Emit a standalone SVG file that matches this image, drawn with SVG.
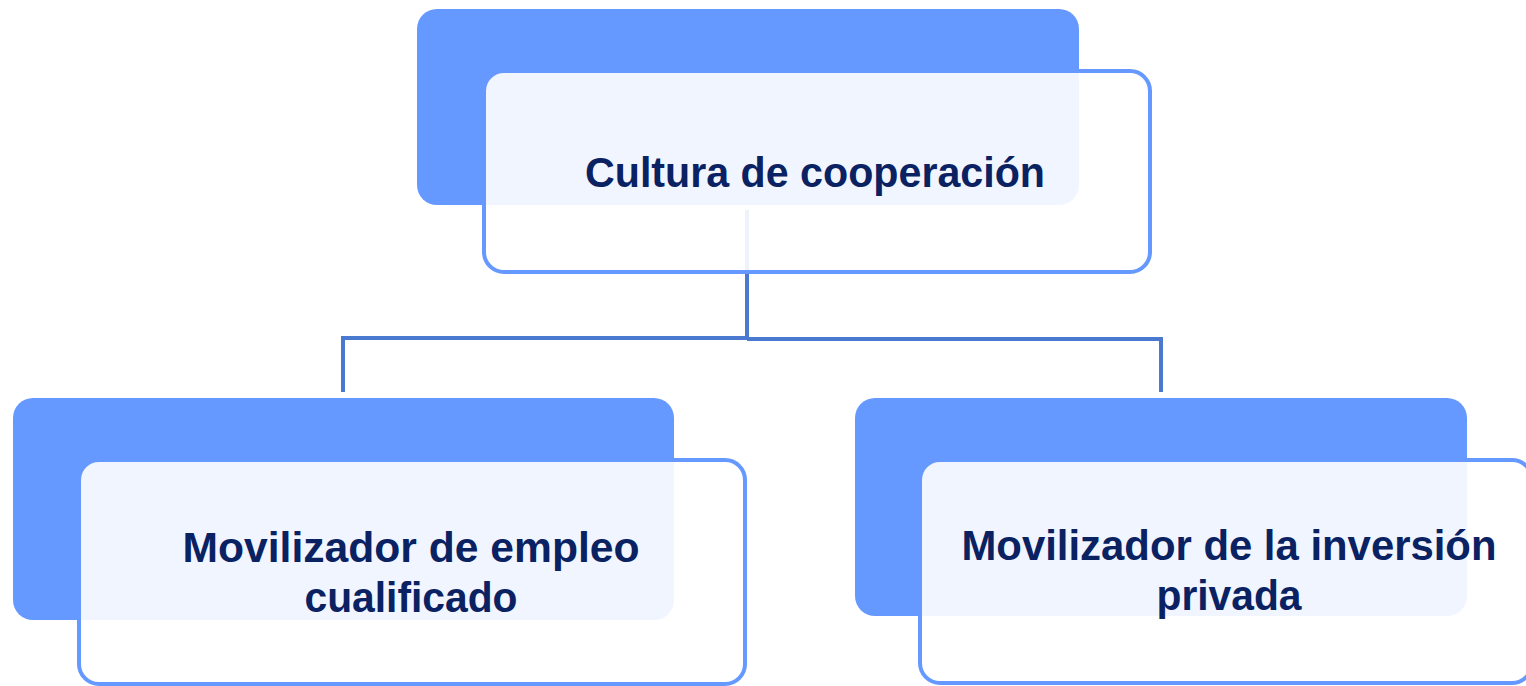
<svg xmlns="http://www.w3.org/2000/svg" width="1526" height="686" viewBox="0 0 1526 686">
<style>
.back{fill:#6699FF}
.front{fill:#FFFFFF;fill-opacity:0.9;stroke:#6699FF;stroke-width:4}
.conn{fill:none;stroke:#4A7AD0;stroke-width:4;stroke-linejoin:miter}
.lbl{font-family:"Liberation Sans",Arial,sans-serif;font-weight:bold;font-size:42px;fill:#0A2262;text-anchor:middle}
</style>
<rect width="1526" height="686" fill="#FFFFFF"/>
<g id="connectors">
<path class="conn" d="M747,210 V338 M343,392 V338 H749 M747,339 H1161 V392"/>
</g>
<g id="node-cultura">
<rect class="back" x="417" y="9" width="662" height="196" rx="20"/>
<rect class="front" x="484" y="71" width="666" height="201" rx="20"/>
<text class="lbl" x="815" y="187" textLength="460" lengthAdjust="spacingAndGlyphs">Cultura de cooperación</text>
</g>
<g id="node-empleo">
<rect class="back" x="13" y="398" width="661" height="222" rx="20"/>
<rect class="front" x="79" y="460" width="666" height="224" rx="20"/>
<text class="lbl" x="411" y="562" textLength="457" lengthAdjust="spacingAndGlyphs">Movilizador de empleo</text>
<text class="lbl" x="411" y="612" textLength="213" lengthAdjust="spacingAndGlyphs">cualificado</text>
</g>
<g id="node-inversion">
<rect class="back" x="855" y="398" width="612" height="218" rx="20"/>
<rect class="front" x="920" y="460" width="612" height="223" rx="20"/>
<text class="lbl" x="1229" y="560" textLength="535" lengthAdjust="spacingAndGlyphs">Movilizador de la inversión</text>
<text class="lbl" x="1229" y="610" textLength="145" lengthAdjust="spacingAndGlyphs">privada</text>
</g>
</svg>
